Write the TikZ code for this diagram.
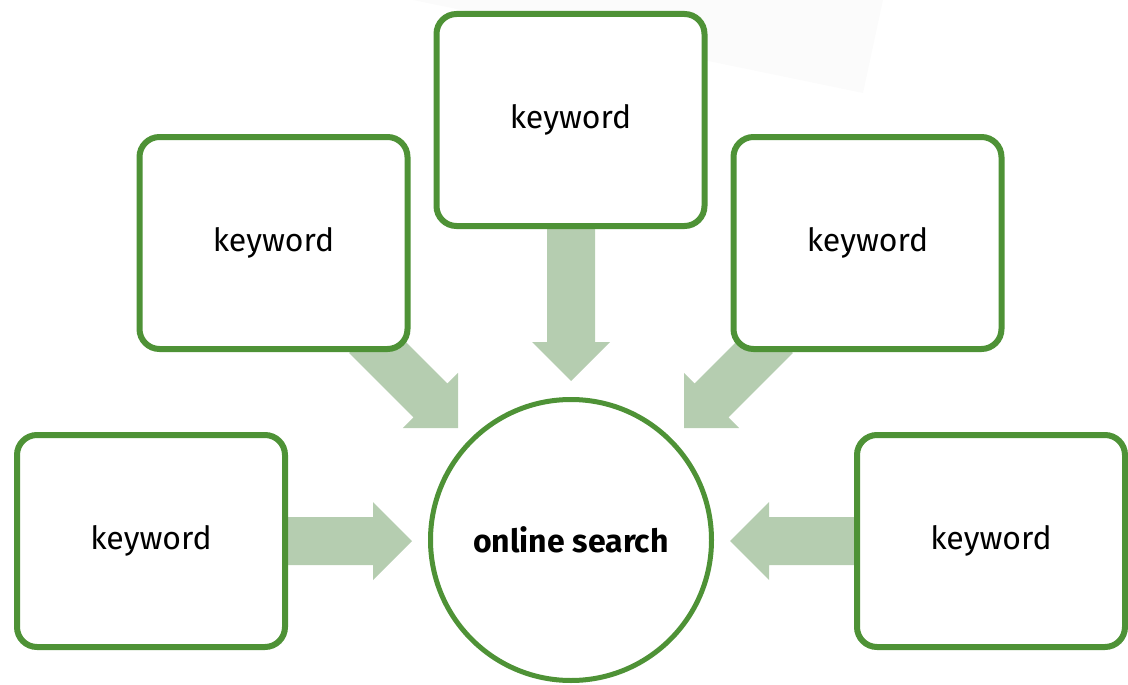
\documentclass[tikz,border=0pt]{standalone}
\usepackage{fontspec}
\setmainfont{Fira Sans}
\definecolor{boxgreen}{RGB}{78,146,54}
\definecolor{arrowfill}{RGB}{181,205,176}
\definecolor{faint}{RGB}{251,251,251}
\begin{document}
\begin{tikzpicture}[x=1pt,y=-1pt,
  kw/.style={draw=boxgreen, line width=6pt, fill=white, rounded corners=20pt,
    minimum width=268pt, minimum height=212pt, inner sep=0pt,
    font=\fontsize{32}{38}\selectfont},
  hub/.style={circle, draw=boxgreen, line width=5pt, fill=white,
    minimum size=281pt, inner sep=0pt, font=\fontsize{32}{38}\selectfont\bfseries},
  barrow/.pic={\fill[arrowfill] (0,0) -- (-39,39) -- (-39,24) -- (-#1,24) -- (-#1,-24) -- (-39,-24) -- (-39,-39) -- cycle;}
]
\useasboundingbox (0,0) rectangle (1128,685);
% faint background shape
\fill[faint] (413,0) -- (863,93) -- (883,0) -- cycle;
% named positions
\coordinate (hubc) at (571,540);
\coordinate (tipBL) at (412,541);
\coordinate (tipBR) at (730,541);
\coordinate (tipT) at (571,381);
\coordinate (tipML) at (458,428);
\coordinate (tipMR) at (684,428);
% block arrows
\pic[rotate=0] at (tipBL) {barrow=132};
\pic[rotate=180] at (tipBR) {barrow=130};
\pic[rotate=-90] at (tipT) {barrow=161};
\pic[rotate=-45] at (tipML) {barrow=130};
\pic[rotate=-135] at (tipMR) {barrow=130};
% boxes
\node[kw] (bl) at (151,541) {keyword};
\node[kw] (ml) at (273.5,243) {keyword};
\node[kw] (t) at (570.5,120) {keyword};
\node[kw] (mr) at (867.5,243) {keyword};
\node[kw] (br) at (991,541) {keyword};
\node[hub] (hub) at (hubc) {online search};
\end{tikzpicture}
\end{document}
